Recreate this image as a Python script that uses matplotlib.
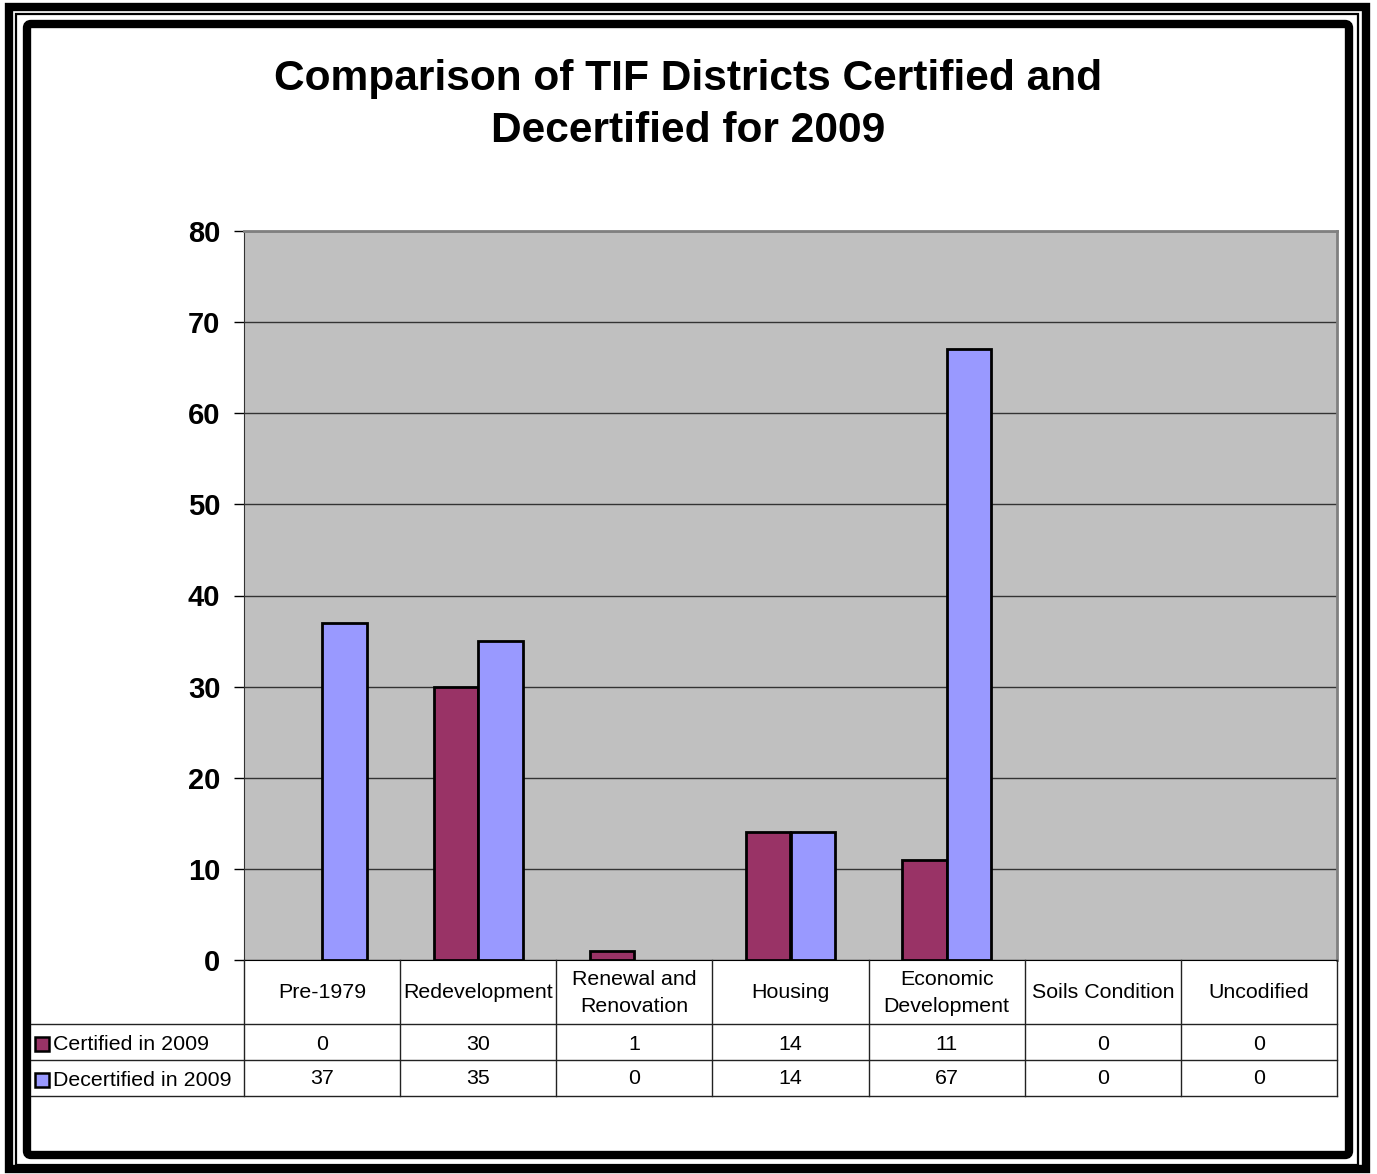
import matplotlib
matplotlib.use("Agg")
import matplotlib.pyplot as plt
from matplotlib.patches import Rectangle, FancyBboxPatch
import numpy as np

plt.rcParams['font.family'] = ['Liberation Sans', 'DejaVu Sans']

categories = ['Pre-1979', 'Redevelopment', 'Renewal and\nRenovation', 'Housing',
              'Economic\nDevelopment', 'Soils Condition', 'Uncodified']
certified = [0, 30, 1, 14, 11, 0, 0]
decertified = [37, 35, 0, 14, 67, 0, 0]
series_names = ['Certified in 2009', 'Decertified in 2009']
series_colors = ['#993366', '#9999FF']

W, H = 1377, 1174
fig = plt.figure(figsize=(W / 100, H / 100), dpi=100)

def px(x0, y0, x1, y1):
    # pixel box (top-left origin) -> figure fraction rect
    return [x0 / W, 1 - y1 / H, (x1 - x0) / W, (y1 - y0) / H]

# frame around the chart
bg = fig.add_axes([0, 0, 1, 1])
bg.set_xlim(0, W)
bg.set_ylim(H, 0)
bg.axis('off')
bg.add_patch(Rectangle((9, 6.5), 1357, 1162, fill=False, lw=6, ec='black'))
bg.add_patch(Rectangle((15.5, 13.5), 1342, 1151, fill=False, lw=1.6, ec='black'))
bg.add_patch(FancyBboxPatch((27, 24), 1322, 1131, boxstyle='round,pad=0,rounding_size=4',
                            fill=False, lw=6, ec='black'))

fig.text(0.5, 1 - 105 / H, 'Comparison of TIF Districts Certified and\nDecertified for 2009',
         ha='center', va='center', fontsize=30.6, fontweight='bold', linespacing=1.39)

# bar chart
ax = fig.add_axes(px(244, 231, 1337, 960))
ax.set_facecolor('#C0C0C0')
x = np.arange(len(categories))
w = 1 / 3.5
for vals, off, col in [(certified, -w / 2, series_colors[0]),
                       (decertified, w / 2, series_colors[1])]:
    edge_w = [2 if v > 0 else 0 for v in vals]
    ax.bar(x + off, vals, w, color=col, edgecolor='black', linewidth=edge_w, zorder=3)
ax.set_xlim(-0.5, len(categories) - 0.5)
ax.set_ylim(0, 80)
ax.set_yticks(range(0, 81, 10))
ax.yaxis.grid(True, color='#333333', lw=1)
ax.set_axisbelow(True)
ax.set_xticks([])
ax.tick_params(axis='y', length=7, width=1, pad=10, labelsize=21)
for lab in ax.get_yticklabels():
    lab.set_fontweight('bold')
for s in ['top', 'right']:
    ax.spines[s].set_color('#808080')
    ax.spines[s].set_linewidth(2)
ax.spines['left'].set_color('#333333')
ax.spines['bottom'].set_color('black')

# data table underneath
tb = fig.add_axes(px(244, 960, 1337, 1096))
tb.set_xlim(-0.5, len(categories) - 0.5)
tb.set_ylim(1096, 960)
tb.axis('off')
lc = '#222222'
unit = 1093 / 7
left = -0.5 - 213 / unit
for yy in [1024, 1060, 1096]:
    tb.plot([left, 6.5], [yy, yy], color=lc, lw=1, clip_on=False)
tb.plot([6.5, 6.5], [960, 1096], color=lc, lw=1, clip_on=False)
for i in range(len(categories)):
    tb.plot([i - 0.5, i - 0.5], [960, 1096], color=lc, lw=1, clip_on=False)
    tb.text(i, 993, categories[i], ha='center', va='center', fontsize=15.4, linespacing=1.55)
    tb.text(i, 1044, str(certified[i]), ha='center', va='center', fontsize=15.4)
    tb.text(i, 1079, str(decertified[i]), ha='center', va='center', fontsize=15.4)

for yy, name, col in zip([1044, 1080], series_names, series_colors):
    tb.add_patch(Rectangle((left + 4 / unit, yy - 7), 14 / unit, 14, facecolor=col,
                           edgecolor='black', lw=1.8, clip_on=False))
    tb.text(left + 22 / unit, yy, name, ha='left', va='center', fontsize=15.4)

fig.savefig('out.png', dpi=100)
